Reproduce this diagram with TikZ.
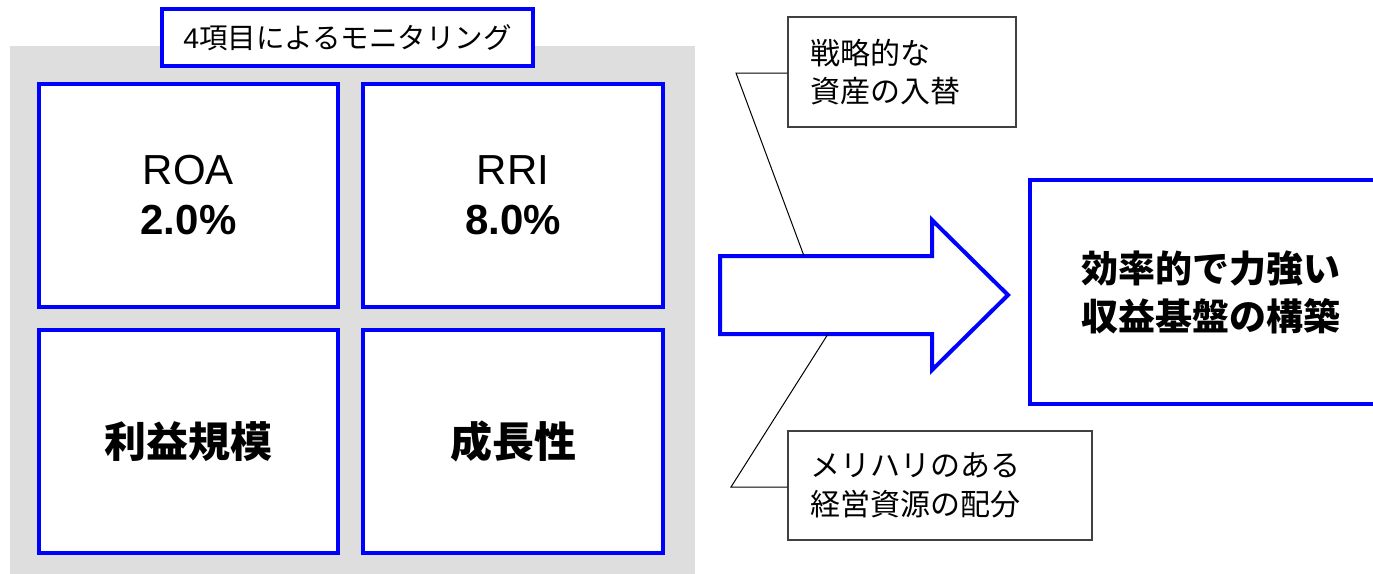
\documentclass[tikz,border=0pt]{standalone}
\usepackage{fontspec}
\setmainfont{Liberation Sans}
\newfontfamily\jp{Noto Sans CJK JP}
\begin{document}
\begin{tikzpicture}[x=1pt,y=-1pt,
  bluebox/.style={draw=blue, line width=4pt, fill=white, align=center, inner sep=0pt},
  callout/.style={draw=black!75, line width=1.2pt, fill=white, align=left, inner xsep=22pt, inner ysep=0pt},
  leader/.style={draw=black, line width=1pt},
  big/.style={font=\fontsize{42}{50}\selectfont},
]
\clip (0,0) rectangle (1373,573);
\fill[white] (0,0) rectangle (1373,573);
% gray panel
\fill[black!13] (10,46) rectangle (695,580);
% title
\node[bluebox, minimum width=371pt, minimum height=57pt, font=\fontsize{28.5}{32}\selectfont] (title) at (347.5,37.5) {4{\jp 項目によるモニタリング}};
% four boxes
\node[bluebox, big, minimum width=299pt, minimum height=223pt] (roa) at (188.5,195.5) {ROA\\\textbf{2.0\%}};
\node[bluebox, big, minimum width=300pt, minimum height=223pt] (rri) at (513,195.5) {RRI\\\textbf{8.0\%}};
\node[bluebox, big, minimum width=299pt, minimum height=223pt] (scale) at (188.5,441.5) {\jp\bfseries 利益規模};
\node[bluebox, big, minimum width=300pt, minimum height=223pt] (growth) at (513,441.5) {\jp\bfseries 成長性};
% arrow
\coordinate (p1) at (720,256);
\coordinate (p2) at (932,256);
\coordinate (p3) at (932,220);
\coordinate (p4) at (1008,295);
\coordinate (p5) at (932,370);
\coordinate (p6) at (932,334);
\coordinate (p7) at (720,334);
\draw[draw=blue, line width=4pt, fill=white, line join=miter] (p1) -- (p2) -- (p3) -- (p4) -- (p5) -- (p6) -- (p7) -- cycle;
% result box
\node[bluebox, minimum width=362pt, minimum height=224pt, font=\fontsize{37}{48}\selectfont] (goal) at (1211,292) {\jp\bfseries 効率的で力強い\\\jp\bfseries 収益基盤の構築};
% callouts
\node[callout, text width=184pt, minimum height=110pt, font=\fontsize{30}{38}\selectfont] (c1) at (902,72) {\jp 戦略的な\\\jp 資産の入替};
\node[callout, text width=260pt, minimum height=109pt, font=\fontsize{30}{39}\selectfont] (c2) at (940,485.5) {\jp メリハリのある\\\jp 経営資源の配分};
\coordinate (k1) at (736,73);
\coordinate (a1) at (804,256);
\coordinate (k2) at (731,487);
\coordinate (a2) at (828,334);
\draw[leader] (c1.west |- k1) -- (k1) -- (a1);
\draw[leader] (c2.west |- k2) -- (k2) -- (a2);
\end{tikzpicture}
\end{document}
